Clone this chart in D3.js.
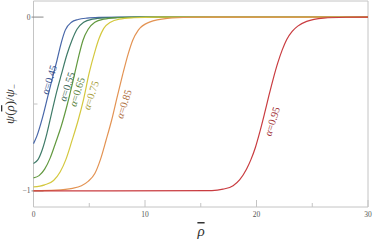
<!DOCTYPE html>
<html>
<head>
<meta charset="utf-8">
<script src="https://cdn.jsdelivr.net/npm/d3@7"></script>
<style>
  body { margin: 0; background: #fff; }
  .frame line { stroke: #c4c4c4; stroke-width: 1; }
  .tick-label { font-family: "Liberation Serif", "DejaVu Serif", serif; font-size: 7.5px; fill: #555; }
  .curve-label { font-family: "Liberation Serif", serif; font-size: 10.5px; }
</style>
</head>
<body>
<div id="chart"></div>
<script>
// alpha values and curves: [rho, psi/psi_-]
var alphas = ["0.45", "0.55", "0.65", "0.75", "0.85", "0.95"];

var curve045 = [[0,-0.728],[0.3,-0.685],[0.8,-0.58],[1.3,-0.452],[1.7,-0.35],[2.1,-0.25],[2.5,-0.145],
  [2.85,-0.075],[3.4,-0.03],[4,-0.014],[4.8,-0.006],[6,-0.002],[8,0],[30,0]];
var curve055 = [[0,-0.842],[0.4,-0.82],[0.8,-0.76],[1.2,-0.67],[1.6,-0.56],[2.0,-0.45],[2.5,-0.33],
  [3.0,-0.215],[3.45,-0.133],[3.9,-0.07],[4.5,-0.03],[5.3,-0.012],[6.5,-0.004],[8,-0.001],[9,0],[30,0]];
var curve065 = [[0,-0.925],[0.5,-0.912],[1.0,-0.875],[1.5,-0.81],[2.0,-0.72],[2.5,-0.625],[3.0,-0.51],
  [3.5,-0.38],[4.0,-0.24],[4.44,-0.133],[4.9,-0.07],[5.5,-0.03],[6.3,-0.012],[7.5,-0.004],[9.5,0],[30,0]];
var curve075 = [[0,-0.977],[1,-0.965],[1.8,-0.94],[2.4,-0.89],[2.9,-0.82],[3.45,-0.711],[4.0,-0.595],
  [4.5,-0.47],[5.0,-0.32],[5.5,-0.2],[5.87,-0.125],[6.3,-0.065],[6.9,-0.03],[7.7,-0.012],[9,-0.004],[11,0],[30,0]];
var curve085 = [[0,-0.998],[2,-0.995],[3.5,-0.985],[4.3,-0.97],[4.9,-0.945],[5.5,-0.9],[6.0,-0.82],
  [6.5,-0.71],[7.0,-0.595],[7.5,-0.46],[8.0,-0.33],[8.5,-0.21],[8.9,-0.133],[9.4,-0.075],[10.4,-0.029],
  [12,-0.007],[14,-0.001],[16,0],[30,0]];
var curve095 = [[0,-1],[16,-0.998],[17,-0.99],[17.9,-0.97],[18.5,-0.935],[19.1,-0.875],[19.5,-0.82],
  [19.9,-0.75],[20.3,-0.66],[20.7,-0.56],[21.1,-0.455],[21.5,-0.355],[21.9,-0.265],[22.3,-0.19],
  [22.7,-0.13],[23.2,-0.082],[23.7,-0.052],[24.5,-0.025],[26,-0.006],[28,-0.001],[30,0]];

var curves = [curve045, curve055, curve065, curve075, curve085, curve095];
var lineColors = ["#4867a9", "#3f7b68", "#62993f", "#d4c83e", "#e39353", "#c93c40"];
var textColors = ["#3b5591", "#3c6858", "#56803a", "#a9a13e", "#b0703f", "#a3353a"];
// label anchor points [rho, psi] near each curve
var labelPos = [[1.4,-0.36], [3.0,-0.4], [3.9,-0.43], [5.15,-0.45], [8.1,-0.5], [21.4,-0.6]];

var xTicks = [0, 10, 20, 30];
var xMinor = [5, 15, 25];
var yTicks = [0, -1];
var yMinor = [-0.5];

var W = 374, H = 241;
var margin = {top: 1, right: 6, bottom: 34, left: 33.5};

var x = d3.scaleLinear().domain([0, 30]).range([margin.left, W - margin.right]);
var y = d3.scaleLinear().domain([-1.0925, 0.0925]).range([H - margin.bottom, margin.top]);

var svg = d3.select("#chart").append("svg")
    .attr("width", W)
    .attr("height", H);

// frame
var frame = svg.append("g").attr("class", "frame");
var x0 = x.range()[0], x1 = x.range()[1], y0 = y.range()[0], y1 = y.range()[1];
[[x0, y0, x1, y0], [x0, y1, x1, y1], [x0, y0, x0, y1], [x1, y0, x1, y1]].forEach(function(s) {
  frame.append("line").attr("x1", s[0]).attr("y1", s[1]).attr("x2", s[2]).attr("y2", s[3]);
});

// ticks
xTicks.forEach(function(t) {
  frame.append("line").attr("x1", x(t)).attr("x2", x(t)).attr("y1", y0).attr("y2", y0 - 7);
  svg.append("text").attr("class", "tick-label")
    .attr("x", x(t)).attr("y", y0 + 10).attr("text-anchor", "middle").text(t);
});
xMinor.forEach(function(t) {
  frame.append("line").attr("x1", x(t)).attr("x2", x(t)).attr("y1", y0).attr("y2", y0 - 4);
});
yTicks.forEach(function(t) {
  frame.append("line").attr("x1", x0 - 2).attr("x2", x0 + 10).attr("y1", y(t)).attr("y2", y(t))
    .style("stroke", "#888");
  svg.append("text").attr("class", "tick-label")
    .attr("x", x0 - 3).attr("y", y(t) + 2.5).attr("text-anchor", "end")
    .text(t < 0 ? "\u22121" : t);
});
yMinor.forEach(function(t) {
  frame.append("line").attr("x1", x0).attr("x2", x0 + 4).attr("y1", y(t)).attr("y2", y(t));
});

// curves
var valueline = d3.line()
  .x(function(d) { return x(d[0]); })
  .y(function(d) { return y(d[1]); })
  .curve(d3.curveMonotoneX);

curves.forEach(function(c, i) {
  svg.append("path")
    .datum(c)
    .attr("fill", "none")
    .attr("stroke", lineColors[i])
    .attr("stroke-width", 1.2)
    .attr("d", valueline);
});

// curve labels
alphas.forEach(function(a, i) {
  var p = labelPos[i];
  var t = svg.append("text").attr("class", "curve-label")
    .attr("transform", "translate(" + x(p[0]) + "," + y(p[1]) + ") rotate(-72)")
    .attr("text-anchor", "middle")
    .attr("dy", "0.35em")
    .style("fill", textColors[i]);
  t.append("tspan").style("font-style", "italic").text("\u03b1");
  t.append("tspan").text("=" + a);
});

// axis labels
var yl = svg.append("text")
  .attr("transform", "translate(14," + ((y0 + y1) / 2) + ") rotate(-90)")
  .attr("text-anchor", "middle")
  .style("font-family", "Liberation Serif, serif")
  .style("font-size", "13px")
  .style("fill", "#333");
yl.append("tspan").style("font-style", "italic").text("\u03c8");
yl.append("tspan").text("(");
yl.append("tspan").style("font-style", "italic").style("text-decoration", "overline").text("\u03c1");
yl.append("tspan").text(")/");
yl.append("tspan").style("font-style", "italic").text("\u03c8");
yl.append("tspan").attr("dy", 3).style("font-size", "9px").text("\u2212");

svg.append("text")
  .attr("x", 201).attr("y", 236)
  .attr("text-anchor", "middle")
  .style("font-family", "Liberation Serif, serif")
  .style("font-size", "15px")
  .style("font-style", "italic")
  .style("text-decoration", "overline")
  .style("fill", "#333")
  .text("\u03c1");
</script>
</body>
</html>
